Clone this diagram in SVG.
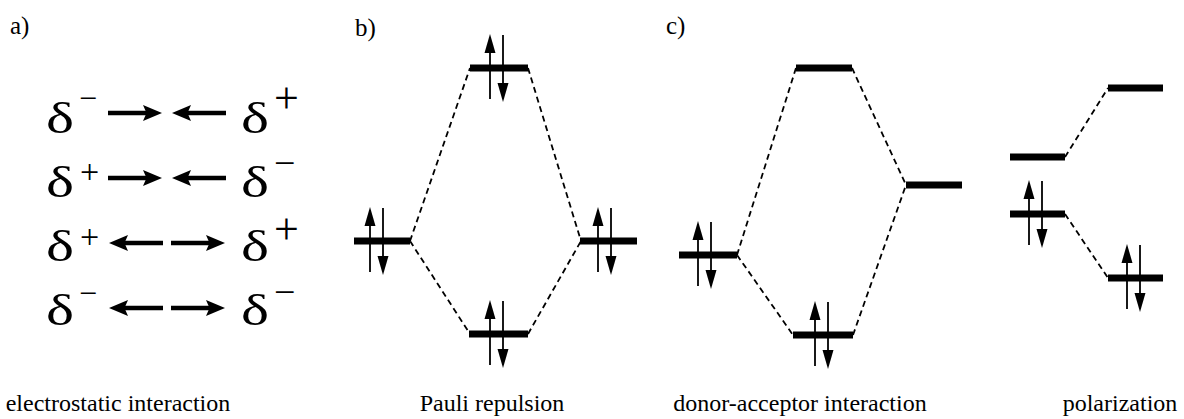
<svg xmlns="http://www.w3.org/2000/svg" width="1184" height="419" viewBox="0 0 1184 419">
  <style>
    text { font-family: "Liberation Serif", "Times New Roman", serif; fill: #000; }
    .tag { font-size: 25px; }
    .cap { font-size: 24px; text-anchor: middle; }
    .delta { font-size: 45px; }
    .supL { font-size: 32px; }
    .supLp { font-size: 34px; }
    .supR { font-size: 38px; }
    .supRp { font-size: 44px; }
    .level { fill: #000; }
    .link { fill: none; stroke: #000; stroke-width: 1.8; stroke-dasharray: 6 4; }
    .spin { stroke: #000; stroke-width: 1.8; fill: none; }
    .shaft { stroke: #000; stroke-width: 4.5; fill: none; }
  </style>
  <defs>
    <!-- electron pair: spin-up at x=0, spin-down at x=13, centred on the level -->
    <g id="pair">
      <line class="spin" x1="0" y1="31" x2="0" y2="-20"/>
      <path d="M0,-34 L-5.5,-15 L5.5,-15 Z"/>
      <line class="spin" x1="13" y1="-33" x2="13" y2="18"/>
      <path d="M13,34 L7.5,15 L18.5,15 Z"/>
    </g>
    <!-- bold arrow pointing right, tip at x=54 -->
    <g id="arrowR">
      <line class="shaft" x1="0" y1="0" x2="40" y2="0"/>
      <path d="M54,0 L35,-8 L38.5,0 L35,8 Z"/>
    </g>
    <g id="arrowL">
      <use href="#arrowR" transform="translate(54,0) scale(-1,1)"/>
    </g>
  </defs>

  <!-- panel labels -->
  <text class="tag" x="10" y="34">a)</text>
  <text class="tag" x="355" y="36">b)</text>
  <text class="tag" x="666" y="34">c)</text>

  <!-- a) electrostatic interaction -->
  <g id="electrostatic">
    <g id="row1">
      <text class="delta" x="46" y="133" textLength="28" lengthAdjust="spacingAndGlyphs">δ</text>
      <text class="supL" x="79" y="109">−</text>
      <use href="#arrowR" x="108" y="113"/>
      <use href="#arrowL" x="172" y="113"/>
      <text class="delta" x="241" y="133" textLength="28" lengthAdjust="spacingAndGlyphs">δ</text>
      <text class="supRp" x="274" y="113">+</text>
    </g>
    <g id="row2">
      <text class="delta" x="46" y="197" textLength="28" lengthAdjust="spacingAndGlyphs">δ</text>
      <text class="supLp" x="80" y="183">+</text>
      <use href="#arrowR" x="108" y="178"/>
      <use href="#arrowL" x="172" y="178"/>
      <text class="delta" x="241" y="197" textLength="28" lengthAdjust="spacingAndGlyphs">δ</text>
      <text class="supR" x="274" y="176">−</text>
    </g>
    <g id="row3">
      <text class="delta" x="46" y="261" textLength="28" lengthAdjust="spacingAndGlyphs">δ</text>
      <text class="supLp" x="80" y="248">+</text>
      <use href="#arrowL" x="109" y="243"/>
      <use href="#arrowR" x="171" y="243"/>
      <text class="delta" x="241" y="261" textLength="28" lengthAdjust="spacingAndGlyphs">δ</text>
      <text class="supRp" x="274" y="244">+</text>
    </g>
    <g id="row4">
      <text class="delta" x="46" y="325" textLength="28" lengthAdjust="spacingAndGlyphs">δ</text>
      <text class="supL" x="79" y="304">−</text>
      <use href="#arrowL" x="109" y="308"/>
      <use href="#arrowR" x="171" y="308"/>
      <text class="delta" x="241" y="325" textLength="28" lengthAdjust="spacingAndGlyphs">δ</text>
      <text class="supR" x="274" y="305">−</text>
    </g>
  </g>

  <!-- correlation lines -->
  <g id="connectors">
    <path class="link" d="M410,241 L470,68 M410,241 L470,334 M528,68 L581,241 M528,334 L581,241"/>
    <path class="link" d="M737,255 L796,68 M737,255 L793,335 M852,68 L906,185 M853,335 L906,185"/>
    <path class="link" d="M1065,157 L1108,88 M1065,214 L1108,278"/>
  </g>

  <!-- b) Pauli repulsion -->
  <g id="b-left"><rect class="level" x="354" y="237.5" width="56" height="7"/><use href="#pair" x="370" y="241"/></g>
  <g id="b-top"><rect class="level" x="470" y="64.5" width="58" height="7"/><use href="#pair" x="490" y="68"/></g>
  <g id="b-bottom"><rect class="level" x="469" y="330.5" width="59" height="7"/><use href="#pair" x="490" y="334"/></g>
  <g id="b-right"><rect class="level" x="580" y="237.5" width="57" height="7"/><use href="#pair" x="598" y="241"/></g>

  <!-- c) donor-acceptor interaction -->
  <g id="c-left"><rect class="level" x="679" y="251.5" width="58" height="7"/><use href="#pair" x="698" y="255"/></g>
  <g id="c-top"><rect class="level" x="796" y="64.5" width="56" height="7"/></g>
  <g id="c-bottom"><rect class="level" x="793" y="331.5" width="60" height="7"/><use href="#pair" x="815" y="335"/></g>
  <g id="c-right"><rect class="level" x="906" y="181.5" width="56" height="7"/></g>

  <!-- polarization -->
  <g id="d-empty-low"><rect class="level" x="1010" y="153.5" width="55" height="7"/></g>
  <g id="d-empty-high"><rect class="level" x="1108" y="84.5" width="55" height="7"/></g>
  <g id="d-occ-high"><rect class="level" x="1010" y="210.5" width="55" height="7"/><use href="#pair" x="1029" y="214"/></g>
  <g id="d-occ-low"><rect class="level" x="1108" y="274.5" width="55" height="7"/><use href="#pair" x="1127" y="278"/></g>

  <!-- captions -->
  <text class="cap" x="118" y="411">electrostatic interaction</text>
  <text class="cap" x="492" y="411">Pauli repulsion</text>
  <text class="cap" x="800" y="411">donor-acceptor interaction</text>
  <text class="cap" x="1120" y="411">polarization</text>
</svg>
